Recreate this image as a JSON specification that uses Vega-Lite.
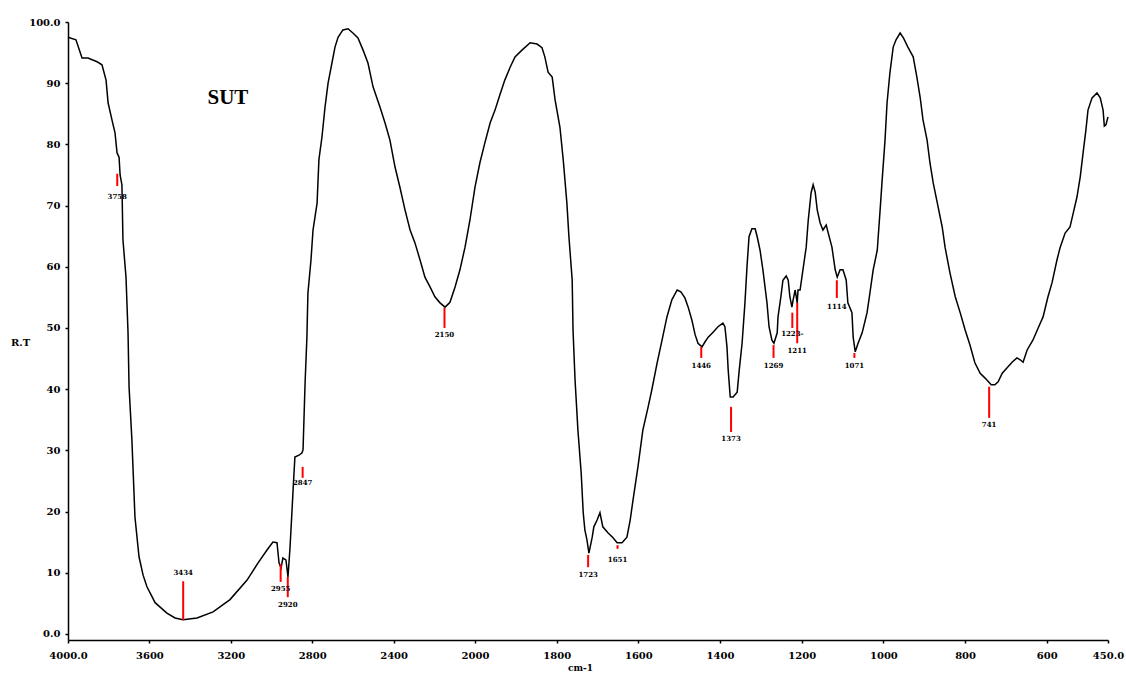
{
  "$schema": "https://vega.github.io/schema/vega-lite/v6.json",
  "width": 1040,
  "height": 618,
  "autosize": {"type": "none"},
  "padding": {"left": 68, "top": 22, "right": 18, "bottom": 35},
  "background": "white",
  "config": {"view": {"stroke": null}},
  "datasets": {
    "spec": [
      {"wn": 4000, "T": 97.5}, {"wn": 3961, "T": 97.1}, {"wn": 3931, "T": 94.1}, {"wn": 3902, "T": 94.1},
      {"wn": 3857, "T": 93.5}, {"wn": 3833, "T": 93.0}, {"wn": 3813, "T": 90.5}, {"wn": 3803, "T": 86.8},
      {"wn": 3784, "T": 84.0}, {"wn": 3769, "T": 81.9}, {"wn": 3759, "T": 78.6}, {"wn": 3749, "T": 77.9},
      {"wn": 3744, "T": 75.0}, {"wn": 3735, "T": 73.4}, {"wn": 3730, "T": 64.4}, {"wn": 3715, "T": 58.3},
      {"wn": 3705, "T": 49.2}, {"wn": 3700, "T": 40.4}, {"wn": 3686, "T": 31.7}, {"wn": 3671, "T": 19.1},
      {"wn": 3651, "T": 12.6}, {"wn": 3631, "T": 9.6}, {"wn": 3612, "T": 7.7}, {"wn": 3572, "T": 5.1},
      {"wn": 3514, "T": 3.4}, {"wn": 3474, "T": 2.6}, {"wn": 3435, "T": 2.3}, {"wn": 3366, "T": 2.6},
      {"wn": 3287, "T": 3.6}, {"wn": 3204, "T": 5.6}, {"wn": 3120, "T": 8.8}, {"wn": 3066, "T": 11.6},
      {"wn": 3022, "T": 13.7}, {"wn": 2993, "T": 15.0}, {"wn": 2973, "T": 14.9}, {"wn": 2963, "T": 11.6},
      {"wn": 2953, "T": 10.8}, {"wn": 2944, "T": 12.4}, {"wn": 2929, "T": 12.1}, {"wn": 2919, "T": 9.3},
      {"wn": 2909, "T": 14.1}, {"wn": 2899, "T": 20.3}, {"wn": 2894, "T": 23.5}, {"wn": 2885, "T": 28.9},
      {"wn": 2865, "T": 29.2}, {"wn": 2850, "T": 29.6}, {"wn": 2845, "T": 30.1}, {"wn": 2835, "T": 41.0},
      {"wn": 2826, "T": 48.5}, {"wn": 2821, "T": 55.7}, {"wn": 2806, "T": 61.1}, {"wn": 2796, "T": 66.0},
      {"wn": 2776, "T": 70.4}, {"wn": 2767, "T": 77.5}, {"wn": 2752, "T": 81.2}, {"wn": 2737, "T": 86.1},
      {"wn": 2722, "T": 90.0}, {"wn": 2703, "T": 93.3}, {"wn": 2688, "T": 95.9}, {"wn": 2673, "T": 97.5},
      {"wn": 2649, "T": 98.7}, {"wn": 2624, "T": 98.9}, {"wn": 2600, "T": 98.2}, {"wn": 2575, "T": 97.4},
      {"wn": 2550, "T": 95.4}, {"wn": 2526, "T": 93.3}, {"wn": 2501, "T": 89.4}, {"wn": 2467, "T": 86.1},
      {"wn": 2442, "T": 83.5}, {"wn": 2418, "T": 80.7}, {"wn": 2393, "T": 76.3}, {"wn": 2369, "T": 73.0},
      {"wn": 2344, "T": 69.3}, {"wn": 2319, "T": 66.0}, {"wn": 2295, "T": 63.9}, {"wn": 2270, "T": 61.1},
      {"wn": 2246, "T": 58.3}, {"wn": 2221, "T": 56.7}, {"wn": 2197, "T": 55.1}, {"wn": 2172, "T": 54.1},
      {"wn": 2147, "T": 53.4}, {"wn": 2123, "T": 54.2}, {"wn": 2098, "T": 56.7}, {"wn": 2074, "T": 59.5},
      {"wn": 2049, "T": 63.2}, {"wn": 2025, "T": 67.6}, {"wn": 2000, "T": 73.0}, {"wn": 1988, "T": 77.0},
      {"wn": 1976, "T": 80.2}, {"wn": 1963, "T": 83.5}, {"wn": 1951, "T": 85.6}, {"wn": 1939, "T": 88.1},
      {"wn": 1927, "T": 90.5}, {"wn": 1914, "T": 92.6}, {"wn": 1902, "T": 94.3}, {"wn": 1885, "T": 95.4},
      {"wn": 1865, "T": 96.6}, {"wn": 1848, "T": 96.4}, {"wn": 1836, "T": 95.8}, {"wn": 1829, "T": 94.3},
      {"wn": 1821, "T": 91.8}, {"wn": 1811, "T": 91.0}, {"wn": 1804, "T": 87.3}, {"wn": 1792, "T": 82.8},
      {"wn": 1784, "T": 77.5}, {"wn": 1775, "T": 70.4}, {"wn": 1770, "T": 64.9}, {"wn": 1762, "T": 57.8},
      {"wn": 1760, "T": 49.7}, {"wn": 1755, "T": 41.5}, {"wn": 1748, "T": 33.3}, {"wn": 1740, "T": 26.3},
      {"wn": 1735, "T": 19.8}, {"wn": 1731, "T": 17.0}, {"wn": 1726, "T": 15.4}, {"wn": 1721, "T": 13.2},
      {"wn": 1713, "T": 15.8}, {"wn": 1709, "T": 17.5}, {"wn": 1701, "T": 18.6}, {"wn": 1694, "T": 19.8},
      {"wn": 1687, "T": 17.5}, {"wn": 1674, "T": 16.5}, {"wn": 1662, "T": 15.7}, {"wn": 1652, "T": 14.9},
      {"wn": 1640, "T": 14.9}, {"wn": 1628, "T": 15.8}, {"wn": 1620, "T": 18.6}, {"wn": 1613, "T": 21.9},
      {"wn": 1601, "T": 27.3}, {"wn": 1589, "T": 33.3}, {"wn": 1576, "T": 37.1}, {"wn": 1567, "T": 39.9},
      {"wn": 1554, "T": 44.3}, {"wn": 1542, "T": 48.0}, {"wn": 1530, "T": 51.8}, {"wn": 1518, "T": 54.6},
      {"wn": 1505, "T": 56.2}, {"wn": 1496, "T": 55.9}, {"wn": 1486, "T": 54.9}, {"wn": 1478, "T": 53.4},
      {"wn": 1469, "T": 51.3}, {"wn": 1461, "T": 48.9}, {"wn": 1454, "T": 47.5}, {"wn": 1444, "T": 46.9},
      {"wn": 1437, "T": 47.7}, {"wn": 1429, "T": 48.5}, {"wn": 1417, "T": 49.3}, {"wn": 1405, "T": 50.2},
      {"wn": 1393, "T": 50.8}, {"wn": 1388, "T": 50.2}, {"wn": 1383, "T": 46.9}, {"wn": 1380, "T": 43.1},
      {"wn": 1375, "T": 38.7}, {"wn": 1368, "T": 38.7}, {"wn": 1358, "T": 39.5}, {"wn": 1353, "T": 43.1},
      {"wn": 1346, "T": 47.5}, {"wn": 1339, "T": 54.1}, {"wn": 1334, "T": 60.0}, {"wn": 1329, "T": 64.9},
      {"wn": 1322, "T": 66.2}, {"wn": 1314, "T": 66.2}, {"wn": 1309, "T": 64.9}, {"wn": 1302, "T": 62.7},
      {"wn": 1295, "T": 59.5}, {"wn": 1285, "T": 54.1}, {"wn": 1280, "T": 50.2}, {"wn": 1273, "T": 48.0},
      {"wn": 1268, "T": 47.5}, {"wn": 1260, "T": 49.2}, {"wn": 1258, "T": 51.8}, {"wn": 1251, "T": 55.1},
      {"wn": 1246, "T": 57.8}, {"wn": 1238, "T": 58.5}, {"wn": 1233, "T": 57.8}, {"wn": 1229, "T": 55.1},
      {"wn": 1224, "T": 53.4}, {"wn": 1221, "T": 54.6}, {"wn": 1216, "T": 56.2}, {"wn": 1211, "T": 54.1},
      {"wn": 1209, "T": 56.2}, {"wn": 1204, "T": 56.2}, {"wn": 1197, "T": 59.5}, {"wn": 1189, "T": 63.2},
      {"wn": 1184, "T": 67.6}, {"wn": 1177, "T": 72.1}, {"wn": 1172, "T": 73.4}, {"wn": 1167, "T": 72.2},
      {"wn": 1162, "T": 69.3}, {"wn": 1155, "T": 67.2}, {"wn": 1148, "T": 66.0}, {"wn": 1140, "T": 66.8},
      {"wn": 1135, "T": 65.5}, {"wn": 1126, "T": 63.2}, {"wn": 1118, "T": 59.5}, {"wn": 1113, "T": 58.3},
      {"wn": 1106, "T": 59.5}, {"wn": 1099, "T": 59.5}, {"wn": 1091, "T": 57.8}, {"wn": 1087, "T": 54.1},
      {"wn": 1077, "T": 52.5}, {"wn": 1074, "T": 48.5}, {"wn": 1069, "T": 46.1}, {"wn": 1062, "T": 47.5},
      {"wn": 1052, "T": 49.2}, {"wn": 1040, "T": 52.5}, {"wn": 1033, "T": 55.7}, {"wn": 1025, "T": 59.5},
      {"wn": 1015, "T": 62.7}, {"wn": 1008, "T": 69.3}, {"wn": 1003, "T": 74.2}, {"wn": 996, "T": 80.7},
      {"wn": 991, "T": 86.8}, {"wn": 984, "T": 91.7}, {"wn": 976, "T": 95.9}, {"wn": 969, "T": 97.1},
      {"wn": 959, "T": 98.2}, {"wn": 951, "T": 97.4}, {"wn": 940, "T": 95.9}, {"wn": 927, "T": 94.3},
      {"wn": 918, "T": 91.0}, {"wn": 910, "T": 87.7}, {"wn": 903, "T": 84.0}, {"wn": 893, "T": 80.7},
      {"wn": 886, "T": 77.0}, {"wn": 878, "T": 73.7}, {"wn": 866, "T": 69.8}, {"wn": 856, "T": 66.5},
      {"wn": 849, "T": 63.2}, {"wn": 837, "T": 59.0}, {"wn": 824, "T": 55.1}, {"wn": 812, "T": 52.5},
      {"wn": 800, "T": 49.7}, {"wn": 788, "T": 47.2}, {"wn": 776, "T": 44.3}, {"wn": 763, "T": 42.6},
      {"wn": 751, "T": 41.8}, {"wn": 736, "T": 40.7}, {"wn": 727, "T": 40.7}, {"wn": 719, "T": 41.2},
      {"wn": 709, "T": 42.6}, {"wn": 697, "T": 43.5}, {"wn": 685, "T": 44.4}, {"wn": 673, "T": 45.1},
      {"wn": 665, "T": 44.8}, {"wn": 658, "T": 44.4}, {"wn": 648, "T": 46.4}, {"wn": 634, "T": 48.0},
      {"wn": 621, "T": 50.0}, {"wn": 609, "T": 51.8}, {"wn": 597, "T": 55.1}, {"wn": 587, "T": 57.4},
      {"wn": 575, "T": 61.1}, {"wn": 567, "T": 63.2}, {"wn": 555, "T": 65.5}, {"wn": 543, "T": 66.5},
      {"wn": 535, "T": 68.8}, {"wn": 526, "T": 71.4}, {"wn": 518, "T": 74.7}, {"wn": 511, "T": 78.6},
      {"wn": 504, "T": 82.4}, {"wn": 499, "T": 85.6}, {"wn": 489, "T": 87.6}, {"wn": 477, "T": 88.4},
      {"wn": 469, "T": 87.6}, {"wn": 462, "T": 85.6}, {"wn": 459, "T": 83.0}, {"wn": 455, "T": 83.2},
      {"wn": 450, "T": 84.5}
    ],
    "peaks": [
      {"wn": 3758, "top": 75.2, "bottom": 73.2, "labelT": 71.4, "label": "3758"},
      {"wn": 3434, "top": 8.6, "bottom": 2.3, "labelT": 9.9, "label": "3434"},
      {"wn": 2955, "top": 11.4, "bottom": 8.5, "labelT": 7.4, "label": "2955"},
      {"wn": 2920, "top": 9.3, "bottom": 6.0, "labelT": 4.8, "label": "2920"},
      {"wn": 2847, "top": 27.3, "bottom": 25.5, "labelT": 24.6, "label": "2847"},
      {"wn": 2150, "top": 53.3, "bottom": 50.0, "labelT": 48.9, "label": "2150"},
      {"wn": 1723, "top": 12.9, "bottom": 10.9, "labelT": 9.7, "label": "1723"},
      {"wn": 1651, "top": 14.5, "bottom": 13.9, "labelT": 12.1, "label": "1651"},
      {"wn": 1446, "top": 46.9, "bottom": 45.1, "labelT": 43.7, "label": "1446"},
      {"wn": 1373, "top": 37.1, "bottom": 33.0, "labelT": 31.8, "label": "1373"},
      {"wn": 1269, "top": 47.2, "bottom": 45.1, "labelT": 43.7, "label": "1269"},
      {"wn": 1223, "top": 52.5, "bottom": 50.0, "labelT": 49.0, "label": "1223-"},
      {"wn": 1211, "top": 54.1, "bottom": 47.5, "labelT": 46.2, "label": "1211"},
      {"wn": 1114, "top": 57.8, "bottom": 54.9, "labelT": 53.5, "label": "1114"},
      {"wn": 1071, "top": 45.9, "bottom": 45.1, "labelT": 43.7, "label": "1071"},
      {"wn": 741, "top": 40.4, "bottom": 35.3, "labelT": 34.2, "label": "741"}
    ]
  },
  "layer": [
    {
      "data": {"name": "spec"},
      "mark": {"type": "line", "color": "black", "strokeWidth": 1.5, "interpolate": "linear"},
      "encoding": {
        "x": {
          "field": "wn", "type": "quantitative",
          "scale": {"domain": [4000, 2000, 450], "range": [0, 407, 1040], "zero": false, "nice": false},
          "axis": {
            "values": [4000, 3600, 3200, 2800, 2400, 2000, 1800, 1600, 1400, 1200, 1000, 800, 600, 450],
            "labelExpr": "datum.value == 4000 ? '4000.0' : datum.value == 450 ? '450.0' : '' + datum.value",
            "labelFlush": false, "labelOverlap": false, "grid": false,
            "domainColor": "black", "domainWidth": 1.5, "tickColor": "black", "tickSize": 3, "tickWidth": 1.5,
            "labelFont": "DejaVu Serif", "labelFontWeight": "bold", "labelFontSize": 10, "labelColor": "black",
            "labelPadding": 7,
            "title": "cm-1", "titleFont": "DejaVu Serif", "titleFontWeight": "bold", "titleFontSize": 9,
            "titleColor": "black", "titleX": 512, "titleY": 27, "titleBaseline": "middle", "titleAlign": "center", "titleAnchor": null
          }
        },
        "y": {
          "field": "T", "type": "quantitative",
          "scale": {"domain": [-1, 100], "zero": false, "nice": false},
          "axis": {
            "values": [0, 5, 10, 15, 20, 25, 30, 35, 40, 45, 50, 55, 60, 65, 70, 75, 80, 85, 90, 95, 100],
            "labelExpr": "datum.value == 100 ? '100.0' : datum.value == 0 ? '0.0' : '' + datum.value",
            "labelOverlap": false, "grid": false, "labelFlush": false,
            "domainColor": "black", "domainWidth": 1.5, "tickColor": "black", "tickSize": 3, "tickWidth": 1.5,
            "labelFont": "DejaVu Serif", "labelFontWeight": "bold", "labelFontSize": 10, "labelColor": "black",
            "labelPadding": 5,
            "title": "R.T", "titleAngle": 0, "titleX": -48, "titleY": 320, "titleAlign": "center", "titleBaseline": "middle",
            "titleFont": "DejaVu Serif", "titleFontWeight": "bold", "titleFontSize": 10, "titleColor": "black"
          }
        }
      }
    },
    {
      "data": {"name": "peaks"},
      "mark": {"type": "rule", "color": "#ff0000", "strokeWidth": 2},
      "encoding": {
        "x": {"field": "wn", "type": "quantitative"},
        "y": {"field": "top", "type": "quantitative"},
        "y2": {"field": "bottom"}
      }
    },
    {
      "data": {"name": "peaks"},
      "mark": {"type": "text", "font": "DejaVu Serif", "fontWeight": "bold", "fontSize": 7, "color": "black", "align": "center", "baseline": "middle"},
      "encoding": {
        "x": {"field": "wn", "type": "quantitative"},
        "y": {"field": "labelT", "type": "quantitative"},
        "text": {"field": "label"}
      }
    },
    {
      "data": {"values": [{"name": "SUT"}]},
      "mark": {"type": "text", "font": "Liberation Serif", "fontWeight": "bold", "fontSize": 21, "color": "black", "align": "center", "baseline": "middle"},
      "encoding": {
        "x": {"datum": 3214, "type": "quantitative"},
        "y": {"datum": 87.6, "type": "quantitative"},
        "text": {"field": "name"}
      }
    }
  ]
}
